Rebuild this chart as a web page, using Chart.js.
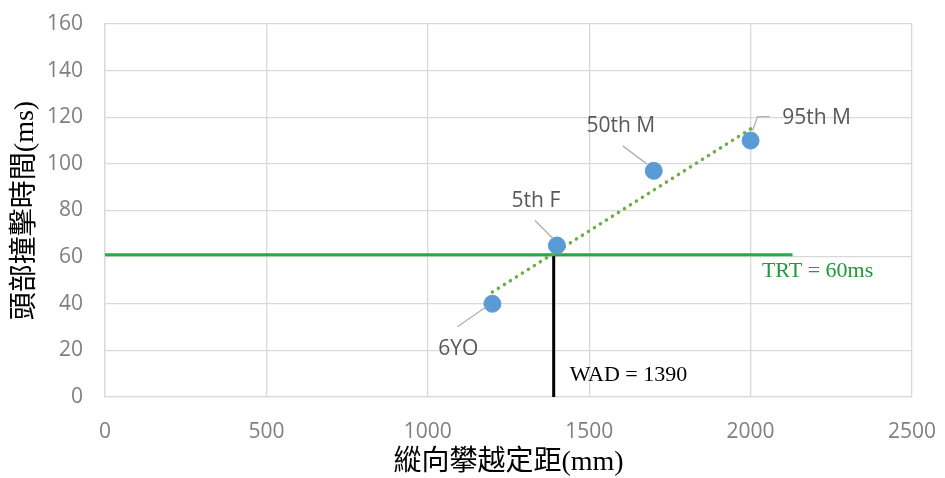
<!DOCTYPE html>
<html>
<head>
<meta charset="utf-8">
<script src="https://cdn.jsdelivr.net/npm/chart.js@4/dist/chart.umd.min.js"></script>
<style>
  html, body { margin: 0; padding: 0; background: #fff; }
  #wrap { width: 945px; height: 478px; }
</style>
</head>
<body>
<div id="wrap"><canvas id="wadChart" width="945" height="478"></canvas></div>
<script>
// data
const pointNames = ['6YO', '5th F', '50th M', '95th M'];
const distance = [1200, 1400, 1700, 2000];      // mm
const headTime = [40, 65, 97, 110];            // ms
const trendX = [1200, 2000];
const trendY = [45, 115];
const trtX = [0, 2130];
const trtY = [61, 61];
const wadX = [1390, 1390];
const wadY = [0, 61];
const xTicks = [0, 500, 1000, 1500, 2000, 2500];
const yTicks = [0, 20, 40, 60, 80, 100, 120, 140, 160];

// callout placement (pixels relative to each point)
const callouts = [
    { dx: -34, dy: 45, leader: [[-35, 23], [-6, 3]] },
    { dx: -21, dy: -44, leader: [[-22, -25], [-4, -7]] },
    { dx: -33, dy: -45, leader: [[-31, -25], [-7, -7]] },
    { dx: 66, dy: -23, leader: [[2, -10], [7, -24], [19, -24]] }
];

const toXY = (xs, ys) => xs.map((x, i) => ({ x: x, y: ys[i] }));

const labelPlugin = {
    id: 'labelPlugin',
    afterDatasetsDraw(chart) {
        const ctx = chart.ctx;
        const xs = chart.scales.x, ys = chart.scales.y;
        ctx.save();
        distance.forEach((d, i) => {
            const px = xs.getPixelForValue(d);
            const py = ys.getPixelForValue(headTime[i]);
            const c = callouts[i];
            ctx.strokeStyle = '#b0b0b0';
            ctx.lineWidth = 1.3;
            ctx.beginPath();
            c.leader.forEach((p, k) => {
                if (k === 0) ctx.moveTo(px + p[0], py + p[1]);
                else ctx.lineTo(px + p[0], py + p[1]);
            });
            ctx.stroke();
            ctx.fillStyle = '#595959';
            ctx.font = '21px "Open Sans", sans-serif';
            ctx.textAlign = 'center';
            ctx.textBaseline = 'middle';
            ctx.fillText(pointNames[i], px + c.dx, py + c.dy);
        });

        ctx.font = '22px "Liberation Serif", "Times New Roman", serif';
        ctx.textAlign = 'left';
        ctx.textBaseline = 'middle';
        ctx.fillStyle = '#1e9a3c';
        ctx.fillText('TRT = 60ms', xs.getPixelForValue(2035), ys.getPixelForValue(trtY[0]) + 16);
        ctx.fillStyle = '#000';
        ctx.fillText('WAD = ' + wadX[0], xs.getPixelForValue(wadX[0]) + 16, ys.getPixelForValue(0) - 22);
        ctx.restore();
    }
};

const ctx = document.getElementById('wadChart').getContext('2d');
window.wadChart = new Chart(ctx, {
    type: 'scatter',
    data: {
        datasets: [
            {
                label: 'points',
                data: toXY(distance, headTime),
                backgroundColor: '#5b9bd5',
                borderColor: '#5b9bd5',
                pointRadius: 8.5,
                order: 0
            },
            {
                label: 'trend',
                data: toXY(trendX, trendY),
                showLine: true,
                borderColor: '#70ad47',
                borderWidth: 3.5,
                borderDash: [0.1, 7],
                borderCapStyle: 'round',
                pointRadius: 0,
                order: 1
            },
            {
                label: 'TRT',
                data: toXY(trtX, trtY),
                showLine: true,
                borderColor: '#22ac4a',
                borderWidth: 3,
                pointRadius: 0,
                order: 2
            },
            {
                label: 'WAD',
                data: toXY(wadX, wadY),
                showLine: true,
                borderColor: '#000000',
                borderWidth: 3,
                pointRadius: 0,
                order: 3
            }
        ]
    },
    options: {
        responsive: false,
        animation: false,
        layout: { padding: { top: 24, right: 33, left: 0, bottom: 0 } },
        plugins: {
            legend: { display: false },
            tooltip: { enabled: false }
        },
        scales: {
            x: {
                type: 'linear',
                min: 0,
                max: 2500,
                afterBuildTicks: s => { s.ticks = xTicks.map(v => ({ value: v })); },
                afterFit: s => { s.height = 81; s.paddingLeft = 0; s.paddingRight = 0; },
                grid: { color: '#d9d9d9', lineWidth: 1.3, drawTicks: false },
                border: { color: '#d9d9d9', width: 1.3 },
                ticks: {
                    color: '#7f7f7f',
                    padding: 22,
                    callback: v => String(v),
                    font: { family: '"Open Sans", sans-serif', size: 21 }
                },
                title: {
                    display: true,
                    text: '縱向攀越定距(mm)',
                    color: '#000',
                    padding: { top: 0, bottom: 0 },
                    font: { family: '"Liberation Serif", "Noto Sans CJK TC", serif', size: 28, lineHeight: 1.1 }
                }
            },
            y: {
                min: 0,
                max: 160,
                afterBuildTicks: s => { s.ticks = yTicks.map(v => ({ value: v })); },
                afterFit: s => { s.width = 105; s.paddingTop = 0; s.paddingBottom = 0; },
                grid: { color: '#d9d9d9', lineWidth: 1.3, drawTicks: false },
                border: { color: '#d9d9d9', width: 1.3 },
                ticks: {
                    color: '#7f7f7f',
                    padding: 22,
                    callback: v => String(v),
                    font: { family: '"Open Sans", sans-serif', size: 21 }
                },
                title: {
                    display: true,
                    text: '頭部撞擊時間(ms)',
                    color: '#000',
                    padding: { top: 10, bottom: 0 },
                    font: { family: '"Liberation Serif", "Noto Sans CJK TC", serif', size: 28, lineHeight: 1.1 }
                }
            }
        }
    },
    plugins: [labelPlugin]
});
</script>
</body>
</html>
